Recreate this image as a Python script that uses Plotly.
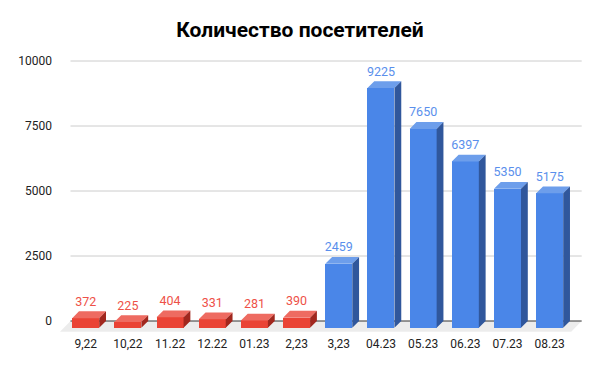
import plotly.graph_objects as go

categories = ["9,22", "10,22", "11.22", "12.22", "01.23", "2,23", "3,23",
              "04.23", "05.23", "06.23", "07.23", "08.23"]
visitors = [372, 225, 404, 331, 281, 390, 2459, 9225, 7650, 6397, 5350, 5175]
series_group = ["red"] * 6 + ["blue"] * 6
y_ticks = [0, 2500, 5000, 7500, 10000]
title_text = "Количество посетителей"

# styling
COLORS = {
    "red": dict(front="#ea4335", top="#ee6b61", side="#a1271e", label="#ee5148"),
    "blue": dict(front="#4a86e8", top="#6d9eeb", side="#30579c", label="#5a8fec"),
}
OFF = 8  # default page body margin
W, H = 600 - OFF, 371 - OFF
L, R, T, B = 60 - OFF, 15, 55 - OFF, 36
PX_PER_X = 42.18
PX_PER_Y = 0.026
plot_w = W - L - R
plot_h = H - T - B
xmin = -(92.5 - (L + OFF)) / PX_PER_X
xmax = xmin + plot_w / PX_PER_X
ymax = (321 - (T + OFF)) / PX_PER_Y
ymin = ymax - plot_h / PX_PER_Y

bar_w = 27 / PX_PER_X
dx = 6.8 / PX_PER_X
dy = 6.8 / PX_PER_Y
fdx = 10.5 / PX_PER_X
fdy = 10.7 / PX_PER_Y
floor_x0 = (70.5 - 92.5) / PX_PER_X
floor_x1 = (581.7 - 92.5) / PX_PER_X
label_lift = 2.5 / PX_PER_Y

fig = go.Figure()

for grp in ["red", "blue"]:
    idx = [i for i, g in enumerate(series_group) if g == grp]
    c = COLORS[grp]
    # front faces
    fig.add_trace(go.Bar(
        x=[i - dx for i in idx], y=[visitors[i] for i in idx], base=-dy,
        width=bar_w, marker=dict(color=c["front"], line=dict(width=0)),
        showlegend=False, hoverinfo="skip"))
    # top faces & side faces
    tx, ty, sx, sy = [], [], [], []
    for i in idx:
        v = visitors[i]
        a, b = i - bar_w / 2, i + bar_w / 2
        tx += [a - dx, b - dx, b, a, a - dx, None]
        ty += [v - dy, v - dy, v, v, v - dy, None]
        sx += [b - dx, b, b, b - dx, b - dx, None]
        sy += [-dy, 0, v, v - dy, -dy, None]
    fig.add_trace(go.Scatter(x=tx, y=ty, mode="lines", fill="toself",
                             fillcolor=c["top"], line=dict(width=0),
                             showlegend=False, hoverinfo="skip"))
    fig.add_trace(go.Scatter(x=sx, y=sy, mode="lines", fill="toself",
                             fillcolor=c["side"], line=dict(width=0),
                             showlegend=False, hoverinfo="skip"))
    # labels
    fig.add_trace(go.Scatter(
        x=[i - dx for i in idx], y=[visitors[i] + label_lift for i in idx],
        mode="text", text=[str(visitors[i]) for i in idx],
        textposition="top center",
        textfont=dict(family="Roboto", size=12.5, color=c["label"]),
        showlegend=False, hoverinfo="skip", cliponaxis=False))

shapes = []
# floor
shapes.append(dict(type="path", xref="x", yref="y", layer="below",
                   path=f"M {floor_x0},0 L {floor_x1},0 L {floor_x1 - fdx},{-fdy} L {floor_x0 - fdx},{-fdy} Z",
                   fillcolor="#ececec", line=dict(width=0)))
for t in y_ticks[1:]:
    shapes.append(dict(type="line", xref="x", yref="y", layer="below",
                       x0=floor_x0, x1=floor_x1, y0=t, y1=t,
                       line=dict(color="#cccccc", width=1)))
shapes.append(dict(type="line", xref="x", yref="y", layer="below",
                   x0=floor_x0, x1=floor_x1, y0=0, y1=0,
                   line=dict(color="#333333", width=1)))

fig.update_layout(
    width=W, height=H,
    margin=dict(l=L, r=R, t=T, b=B, autoexpand=False),
    paper_bgcolor="white", plot_bgcolor="white",
    title=dict(text=f"<b>{title_text}</b>", x=(300 - OFF) / W, xanchor="center",
               xref="container",
               y=1 - (30 - OFF) / H, yanchor="middle",
               font=dict(family="Roboto", size=21, color="#000000")),
    xaxis=dict(range=[xmin, xmax], showgrid=False, zeroline=False,
               tickvals=[i - dx for i in range(len(categories))],
               ticktext=categories, ticks="", showline=False,
               tickfont=dict(family="Roboto", size=12, color="#222222")),
    yaxis=dict(range=[ymin, ymax], showgrid=False, zeroline=False,
               tickvals=y_ticks, ticktext=[str(t) for t in y_ticks],
               ticks="", showline=False, ticklabelstandoff=7,
               tickfont=dict(family="Roboto", size=12, color="#222222")),
    shapes=shapes,
    bargap=0,
    barmode="overlay",
)

fig.write_html("out.html")
